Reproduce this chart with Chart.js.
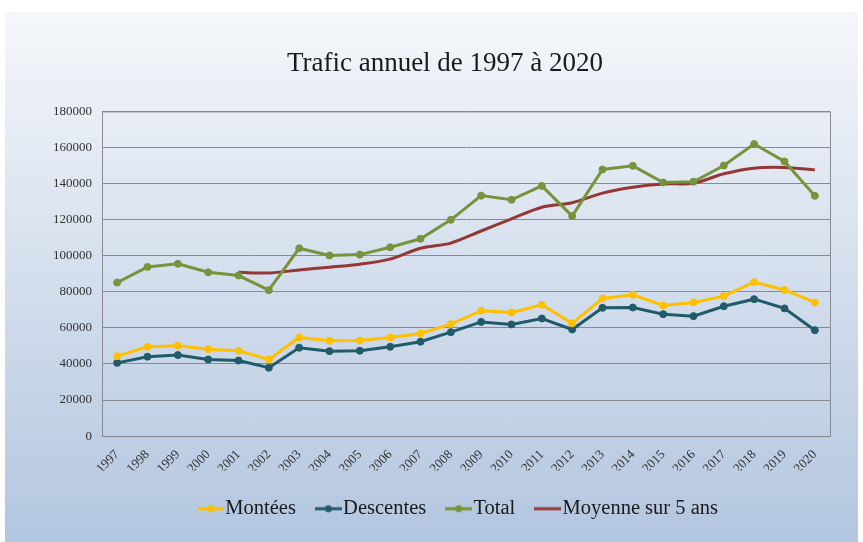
<!DOCTYPE html>
<html>
<head>
<meta charset="utf-8">
<script src="https://cdn.jsdelivr.net/npm/chart.js@4/dist/chart.umd.min.js"></script>
<style>
  body { margin: 0; background: #fff; }
  #wrap {
    position: absolute; left: 5px; top: 12px; width: 853px; height: 530px;
    background: linear-gradient(#f5f7fa, #b3c6e0);
  }
</style>
</head>
<body>
<div id="wrap"><canvas id="trafic"></canvas></div>
<script>
const years = ['1997', '1998', '1999', '2000', '2001', '2002', '2003', '2004', '2005', '2006', '2007', '2008',
  '2009', '2010', '2011', '2012', '2013', '2014', '2015', '2016', '2017', '2018', '2019', '2020'];

const montees = [44300, 49500, 50100, 48200, 47300, 42500, 54700, 52800, 53000, 54700, 56900, 62100,
  69500, 68500, 72800, 62500, 76300, 78300, 72400, 74100, 77600, 85400, 81000, 74100];
const descentes = [40600, 44000, 44900, 42500, 41900, 37900, 49000, 47100, 47300, 49500, 52300, 57600,
  63300, 61900, 65200, 59100, 71100, 71300, 67600, 66500, 72000, 75900, 70800, 58700];
const total = [85100, 93800, 95500, 90800, 89000, 80900, 104100, 100100, 100600, 104700, 109400, 119900,
  133300, 131000, 138700, 122000, 147800, 149800, 140600, 141000, 150000, 161900, 152200, 133200];
// moyenne glissante sur 5 ans, commence en 2001
const moyenne = [null, null, null, null, 90800, 90400, 92100, 93600, 95300, 98100, 104100, 107000,
  113700, 120400, 126900, 129400, 134700, 138000, 139800, 140200, 145400, 148500, 148900, 147600];

const FONT = "'Liberation Serif', 'DejaVu Serif', serif";

// legend icon: short line with a dot in the middle
function legendIcon(color, dot) {
  const c = document.createElement('canvas');
  c.width = 27; c.height = 10;
  const ctx = c.getContext('2d');
  ctx.strokeStyle = color;
  ctx.lineWidth = 3;
  ctx.beginPath();
  ctx.moveTo(0, 5);
  ctx.lineTo(27, 5);
  ctx.stroke();
  if (dot) {
    ctx.fillStyle = color;
    ctx.beginPath();
    ctx.arc(13.5, 5, 3.5, 0, Math.PI * 2);
    ctx.fill();
  }
  return c;
}

const icons = [];

function serie(label, data, color, dot, tension) {
  icons.push(legendIcon(color, dot));
  return {
    label: label,
    data: data,
    borderColor: color,
    backgroundColor: color,
    borderWidth: 3,
    pointRadius: dot ? 3.5 : 0,
    pointBorderWidth: 1,
    pointHoverRadius: dot ? 3.5 : 0,
    pointStyle: 'circle',
    tension: tension
  };
}

// frame around the plot area, and legend nudged right like the original
const frame = {
  id: 'frame',
  afterLayout(chart) {
    chart.legend.left += 17;
    chart.legend.right += 17;
  },
  beforeDatasetsDraw(chart) {
    const a = chart.chartArea;
    const ctx = chart.ctx;
    ctx.save();
    ctx.strokeStyle = '#868b94';
    ctx.lineWidth = 1;
    ctx.strokeRect(a.left + 0.5, a.top + 0.5, a.right - a.left, a.bottom - a.top);
    ctx.restore();
  }
};

new Chart(document.getElementById('trafic'), {
  type: 'line',
  data: {
    labels: years,
    datasets: [
      serie('Montées', montees, '#ffc000', true, 0),
      serie('Descentes', descentes, '#215a68', true, 0),
      serie('Total', total, '#77933c', true, 0),
      serie('Moyenne sur 5 ans', moyenne, '#953735', false, 0.3)
    ]
  },
  options: {
    responsive: true,
    maintainAspectRatio: false,
    animation: false,
    layout: { padding: { left: 27, right: 0, top: 0, bottom: 13 } },
    plugins: {
      title: {
        display: true,
        text: 'Trafic annuel de 1997 à 2020',
        color: '#1a1a1a',
        font: { family: FONT, size: 27, weight: 'normal' },
        padding: { top: 36, bottom: 31 }
      },
      legend: {
        position: 'bottom',
        labels: {
          usePointStyle: true,
          pointStyleWidth: 9,
          color: '#1a1a1a',
          font: { family: FONT, size: 20.5 },
          padding: 28,
          generateLabels(chart) {
            const items = Chart.defaults.plugins.legend.labels.generateLabels(chart);
            items.forEach((it, i) => { it.pointStyle = icons[i]; });
            return items;
          }
        }
      },
      tooltip: { enabled: false }
    },
    scales: {
      x: {
        offset: true,
        grid: { display: false },
        border: { color: '#7d828c' },
        afterFit(scale) { scale.height -= 9; },
        ticks: {
          color: '#333',
          font: { family: FONT, size: 13 },
          minRotation: 45,
          maxRotation: 45,
          autoSkip: false
        }
      },
      y: {
        min: 0,
        max: 180000,
        afterFit(scale) { scale.width = 70; },
        grid: { color: '#868b94', lineWidth: 1, drawTicks: false },
        border: { color: '#7d828c' },
        ticks: {
          stepSize: 20000,
          color: '#333',
          padding: 10,
          font: { family: FONT, size: 13 },
          callback: v => String(v)
        }
      },
      // empty right axis, only keeps a margin on the right of the plot
      y2: {
        position: 'right',
        afterFit(scale) { scale.width = 28; },
        grid: { display: false },
        border: { display: false },
        ticks: { display: false }
      }
    }
  },
  plugins: [frame]
});
</script>
</body>
</html>
